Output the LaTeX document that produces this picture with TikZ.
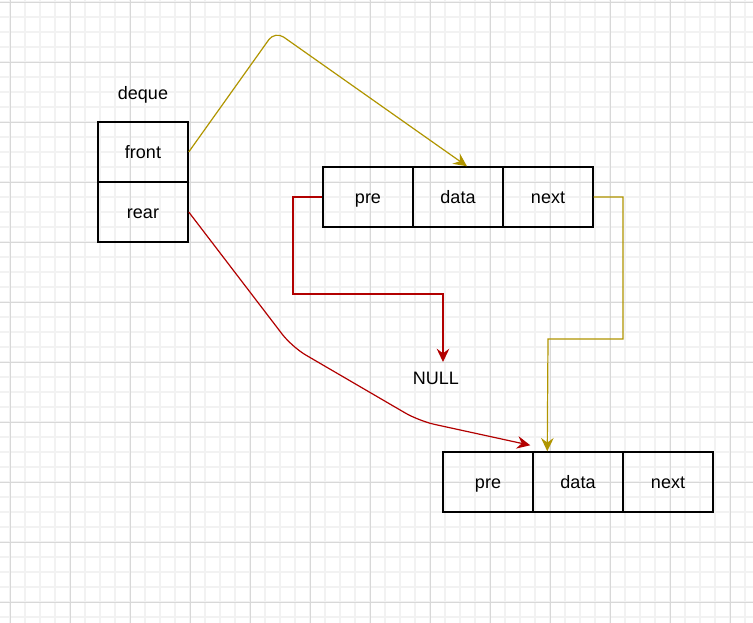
\documentclass[tikz,border=0pt]{standalone}
\usepackage{fontspec}
\setmainfont{Liberation Sans}
\usetikzlibrary{arrows.meta,calc}
\definecolor{gold}{HTML}{B09500}
\definecolor{dred}{HTML}{B20000}
\definecolor{minorg}{HTML}{F2F2F2}
\definecolor{majorg}{HTML}{D8D8D8}
\begin{document}
\begin{tikzpicture}[x=0.75pt,y=-0.75pt,
  txt/.style={font=\fontsize{13.5}{16}\selectfont,text height=13pt,text depth=2.8pt},
  cell/.style={txt,draw,line width=1.1pt,minimum width=67.5pt,minimum height=45pt,inner sep=0pt},
  lbl/.style={txt,inner sep=1pt},
  arr/.style={line width=0.9pt,-{Stealth[length=10pt,width=9.5pt,inset=3.5pt]}}]
\useasboundingbox (0,0) rectangle (753,623);
\fill[white] (0,0) rectangle (753,623);
\foreach \x in {10,25,...,745} \draw[minorg,line width=1pt] (\x,0) -- (\x,623);
\foreach \y in {2,17,...,620} \draw[minorg,line width=1pt] (0,\y) -- (753,\y);
\foreach \x in {10,70,...,730} \draw[majorg,line width=0.6pt] (\x,0) -- (\x,623);
\foreach \y in {2,62,...,602} \draw[majorg,line width=0.6pt] (0,\y) -- (753,\y);

\node[lbl] (deque) at (143,93) {deque};
\node[cell] (front) at (143,152) {front};
\node[cell] (rear) at (143,212) {rear};
\node[cell] (pre1) at (368,197) {pre};
\node[cell] (data1) at (458,197) {data};
\node[cell] (next1) at (548,197) {next};
\node[cell] (pre2) at (488,482) {pre};
\node[cell] (data2) at (578,482) {data};
\node[cell] (next2) at (668,482) {next};
\node[lbl] (null) at (436,378) {NULL};

\coordinate (nullin) at (443,362);
\coordinate (d1in) at ($(data1.north)+(9,0)$);
\coordinate (d2in) at ($(data2.north west)+(-2,-6)$);
\coordinate (d2top) at ($(data2.north west)+(15,0)$);

\draw[arr,gold,rounded corners=8pt] (front.east) -- (275,31) -- (d1in);
\draw[arr,dred,rounded corners=12pt] (rear.east) -- (292,347) -- (419,421) -- (d2in);
\draw[arr,dred] (pre1.west) -- (293,197) -- (293,294) -- (443,294) -- (nullin);
\draw[arr,gold] (next1.east) -- (623,197) -- (623,339) -- (548,339) -- (d2top);
\end{tikzpicture}
\end{document}
